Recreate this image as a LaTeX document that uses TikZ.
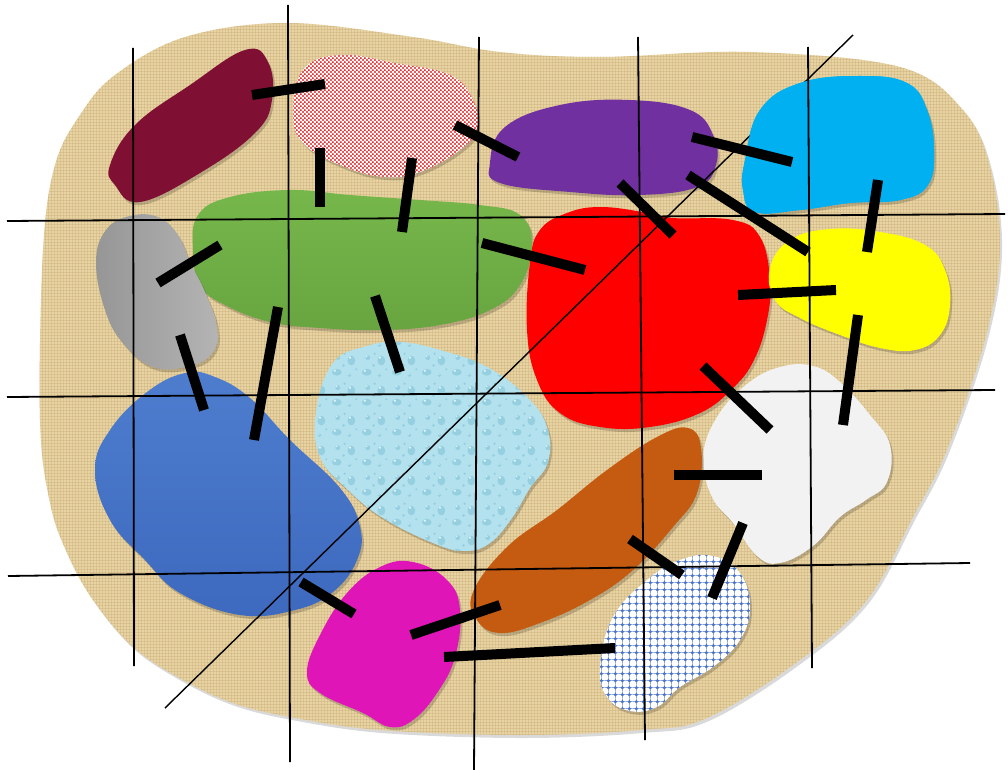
\documentclass[tikz,border=0pt]{standalone}
\usetikzlibrary{patterns}
\definecolor{tan}{HTML}{E8D3A2}
\definecolor{tandark}{HTML}{BFA26A}
\definecolor{maroon}{HTML}{7F1034}
\definecolor{dotred}{HTML}{E01E22}
\definecolor{purp}{HTML}{7030A0}
\definecolor{cyanb}{HTML}{00B0F0}
\definecolor{greenA}{HTML}{76B74B}
\definecolor{greenB}{HTML}{68A540}
\definecolor{grayA}{HTML}{B4B4B4}
\definecolor{grayB}{HTML}{969696}
\definecolor{blueA}{HTML}{4E7DCE}
\definecolor{blueB}{HTML}{3D69BE}
\definecolor{water}{HTML}{B3E2EE}
\definecolor{dropd}{HTML}{95CFE0}
\definecolor{dropl}{HTML}{DDF4FA}
\definecolor{redb}{HTML}{FF0000}
\definecolor{yell}{HTML}{FFFF00}
\definecolor{whiteb}{HTML}{F2F2F2}
\definecolor{orangeb}{HTML}{C55A11}
\definecolor{magb}{HTML}{E015B8}
\definecolor{checkb}{HTML}{4A74C6}
\pgfdeclarepatternformonly{rdots}{\pgfpointorigin}{\pgfpoint{4.4pt}{4.4pt}}{\pgfpoint{4.4pt}{4.4pt}}{%
  \pgfpathcircle{\pgfpoint{1.1pt}{1.1pt}}{1.3pt}%
  \pgfpathcircle{\pgfpoint{3.3pt}{3.3pt}}{1.3pt}%
  \pgfusepath{fill}}
\pgfdeclarepatternformonly{bcheck}{\pgfpointorigin}{\pgfpoint{7.3pt}{7.3pt}}{\pgfpoint{7.3pt}{7.3pt}}{%
  \pgfpathcircle{\pgfpoint{3.65pt}{3.65pt}}{1.9pt}%
  \pgfusepath{fill}%
  \pgfsetlinewidth{0.6pt}%
  \pgfpathmoveto{\pgfpoint{0pt}{3.65pt}}\pgfpathlineto{\pgfpoint{7.3pt}{3.65pt}}%
  \pgfpathmoveto{\pgfpoint{3.65pt}{0pt}}\pgfpathlineto{\pgfpoint{3.65pt}{7.3pt}}%
  \pgfusepath{stroke}}
\pgfdeclarepatterninherentlycolored{drops}{\pgfpointorigin}{\pgfpoint{30pt}{30pt}}{\pgfpoint{30pt}{30pt}}{%
  \pgfsetfillcolor{dropd}%
  \pgfpathellipse{\pgfpoint{7pt}{8pt}}{\pgfpoint{5pt}{0pt}}{\pgfpoint{0pt}{3.5pt}}%
  \pgfpathcircle{\pgfpoint{20pt}{5pt}}{2pt}%
  \pgfpathellipse{\pgfpoint{22pt}{20pt}}{\pgfpoint{4pt}{0pt}}{\pgfpoint{0pt}{5pt}}%
  \pgfpathcircle{\pgfpoint{8pt}{23pt}}{2.5pt}%
  \pgfpathcircle{\pgfpoint{14pt}{15pt}}{1.5pt}%
  \pgfpathcircle{\pgfpoint{27pt}{11pt}}{1.2pt}%
  \pgfpathcircle{\pgfpoint{15pt}{27pt}}{1.3pt}%
  \pgfusepath{fill}%
  \pgfsetfillcolor{dropl}%
  \pgfpathcircle{\pgfpoint{5pt}{9.5pt}}{1.3pt}%
  \pgfpathcircle{\pgfpoint{20.5pt}{23pt}}{1.3pt}%
  \pgfpathcircle{\pgfpoint{7pt}{24.5pt}}{0.9pt}%
  \pgfpathcircle{\pgfpoint{19.5pt}{6pt}}{0.7pt}%
  \pgfusepath{fill}}
\newcommand\myblob[2]{%
  \fill[black,opacity=0.18,shift={(2,3)}] plot[smooth cycle,tension=0.7] coordinates {#1};
  \path[#2] plot[smooth cycle,tension=0.7] coordinates {#1};}
\newcommand\boardpts{(43,250)(55,165)(80,115)(115,75)(185,37)(287,23)(413,37)(500,52)(600,57)(750,52)(900,67)(963,110)(990,167)(1000,250)(985,340)(947,450)(913,517)(867,600)(800,660)(707,718)(640,730)(520,735)(380,730)(290,717)(233,703)(183,680)(133,647)(93,600)(67,553)(50,503)(40,420)}
\begin{document}
\begin{tikzpicture}[x=1pt,y=-1pt,
  conn/.style={line width=10pt,black},
  gridline/.style={line width=1.8pt,black},
  diagline/.style={line width=1.4pt,black}]
\useasboundingbox (0,0) rectangle (1008,770);
\fill[white] (0,0) rectangle (1008,770);
% background board
\fill[black,opacity=0.15,shift={(2,3)}] plot[smooth cycle,tension=0.6] coordinates {\boardpts};
\fill[tan] plot[smooth cycle,tension=0.6] coordinates {\boardpts};
\fill[pattern=grid,pattern color=tandark,opacity=0.3] plot[smooth cycle,tension=0.6] coordinates {\boardpts};
% blobs
\myblob{(110,165)(135,125)(190,85)(245,50)(268,62)(272,100)(255,133)(200,173)(140,202)(115,185)}{fill=maroon}
\myblob{(293,115)(303,70)(340,55)(395,63)(450,75)(473,100)(477,128)(460,150)(420,172)(385,177)(345,167)(305,145)}{fill=white,postaction={pattern=rdots,pattern color=dotred}}
\myblob{(490,163)(505,127)(560,105)(630,100)(690,110)(713,135)(716,165)(697,187)(640,195)(570,192)(500,183)}{fill=purp}
\myblob{(745,160)(760,110)(800,83)(860,76)(907,83)(927,110)(934,150)(928,185)(900,200)(850,203)(800,210)(755,212)(743,190)}{fill=cyanb}
\myblob{(193,250)(198,215)(230,197)(290,190)(350,195)(420,200)(480,205)(520,215)(532,245)(520,285)(490,310)(440,325)(380,330)(320,328)(270,322)(225,305)(200,285)}{top color=greenA,bottom color=greenB}
\myblob{(96,262)(106,230)(130,216)(158,217)(178,235)(190,262)(205,292)(217,327)(213,352)(190,366)(153,367)(123,343)(105,310)}{left color=grayB,right color=grayA}
\myblob{(95,470)(110,430)(147,392)(185,373)(215,377)(250,398)(290,440)(340,488)(360,527)(357,560)(333,592)(295,610)(240,615)(180,593)(145,560)(110,520)}{top color=blueA,bottom color=blueB}
\myblob{(316,412)(333,363)(367,346)(400,342)(440,350)(487,367)(527,397)(547,427)(548,462)(530,488)(512,518)(490,543)(465,551)(433,543)(383,518)(348,490)(320,457)}{fill=water,postaction={pattern=drops}}
\myblob{(530,263)(540,230)(567,213)(600,207)(643,212)(673,218)(733,220)(760,237)(770,280)(767,320)(754,360)(733,388)(700,413)(650,427)(600,427)(560,413)(537,380)(527,330)}{fill=redb}
\myblob{(770,268)(790,240)(830,229)(880,232)(925,245)(945,270)(950,305)(940,335)(915,350)(880,348)(840,335)(800,318)(775,300)}{fill=yell}
\myblob{(703,457)(717,417)(747,384)(780,367)(813,366)(840,382)(870,415)(890,445)(887,482)(866,500)(840,517)(813,546)(780,563)(757,556)(733,523)(712,497)}{fill=whiteb}
\myblob{(473,592)(507,547)(557,510)(607,470)(657,437)(688,428)(701,448)(697,493)(673,527)(633,570)(590,600)(540,623)(500,633)(477,620)}{fill=orangeb}
\myblob{(307,672)(320,635)(347,593)(380,567)(413,562)(447,580)(460,610)(455,657)(437,693)(413,720)(390,727)(363,713)(320,693)}{fill=magb}
\myblob{(600,667)(613,617)(647,580)(680,560)(713,556)(740,573)(750,607)(740,640)(713,667)(680,687)(657,707)(630,711)(607,697)}{fill=white,postaction={pattern=bcheck,pattern color=checkb}}
% diagonal line (passes under the cyan blob)
\coordinate (dA) at (165,708);
\coordinate (dB) at (853,35);
\draw[diagline] (dA) -- (dB);
\path[fill=cyanb] plot[smooth cycle,tension=0.7] coordinates {(745,160)(760,110)(800,83)(860,76)(907,83)(927,110)(934,150)(928,185)(900,200)(850,203)(800,210)(755,212)(743,190)};
% grid lines
\coordinate (v1a) at (133,48);  \coordinate (v1b) at (134,666);
\coordinate (v2a) at (288,5);   \coordinate (v2b) at (290,762);
\coordinate (v3a) at (479,37);  \coordinate (v3b) at (474,770);
\coordinate (v4a) at (638,37);  \coordinate (v4b) at (645,740);
\coordinate (v5a) at (808,47);  \coordinate (v5b) at (812,668);
\coordinate (h1a) at (7,221);   \coordinate (h1b) at (1005,214);
\coordinate (h2a) at (7,397);   \coordinate (h2b) at (995,390);
\coordinate (h3a) at (8,576);   \coordinate (h3b) at (970,563);
\foreach \n in {v1,v2,v3,v4,v5,h1,h2,h3} \draw[gridline] (\n a) -- (\n b);
% connectors
\coordinate (k1a) at (252,95);  \coordinate (k1b) at (325,84);
\coordinate (k2a) at (320,148); \coordinate (k2b) at (320,207);
\coordinate (k3a) at (412,158); \coordinate (k3b) at (402,232);
\coordinate (k4a) at (455,125); \coordinate (k4b) at (518,157);
\coordinate (k5a) at (692,137); \coordinate (k5b) at (792,162);
\coordinate (k6a) at (688,175); \coordinate (k6b) at (808,252);
\coordinate (k7a) at (620,183); \coordinate (k7b) at (673,235);
\coordinate (k8a) at (878,180); \coordinate (k8b) at (867,252);
\coordinate (k9a) at (482,243); \coordinate (k9b) at (585,270);
\coordinate (k10a) at (738,295); \coordinate (k10b) at (836,290);
\coordinate (k11a) at (158,283); \coordinate (k11b) at (220,245);
\coordinate (k12a) at (180,335); \coordinate (k12b) at (204,410);
\coordinate (k13a) at (278,307); \coordinate (k13b) at (254,440);
\coordinate (k14a) at (375,296); \coordinate (k14b) at (400,372);
\coordinate (k15a) at (703,366); \coordinate (k15b) at (770,430);
\coordinate (k16a) at (858,315); \coordinate (k16b) at (843,425);
\coordinate (k17a) at (674,475); \coordinate (k17b) at (762,475);
\coordinate (k18a) at (743,523); \coordinate (k18b) at (712,598);
\coordinate (k19a) at (630,539); \coordinate (k19b) at (682,575);
\coordinate (k20a) at (301,582); \coordinate (k20b) at (354,614);
\coordinate (k21a) at (411,635); \coordinate (k21b) at (500,605);
\coordinate (k22a) at (444,657); \coordinate (k22b) at (615,648);
\foreach \n in {1,...,22} \draw[conn] (k\n a) -- (k\n b);
\end{tikzpicture}
\end{document}
